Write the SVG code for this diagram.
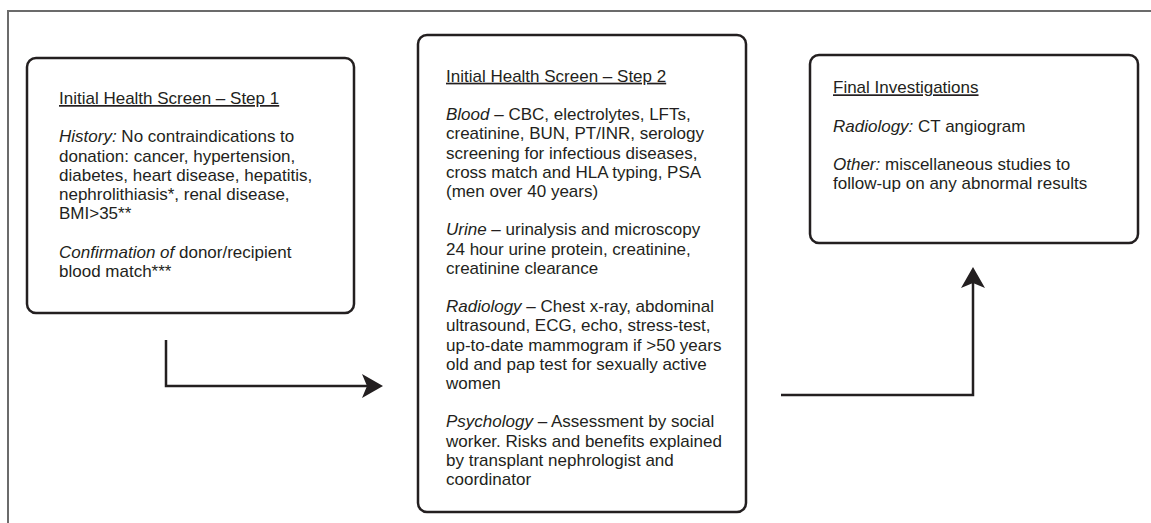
<svg xmlns="http://www.w3.org/2000/svg" width="1151" height="523" viewBox="0 0 1151 523">
<style>
.frame{fill:none;stroke:#6b6b6b;stroke-width:2}
.box{fill:#fff;stroke:#231f20;stroke-width:2.5}
.t{font-family:"Liberation Sans",Arial,sans-serif;font-size:17px;fill:#231f20}
.i{font-style:italic}
.u{text-decoration:underline}
.conn{fill:none;stroke:#231f20;stroke-width:2.5}
</style>
<defs>
<marker id="ah" viewBox="0 0 21 24" refX="5" refY="12" markerWidth="21" markerHeight="24" markerUnits="userSpaceOnUse" orient="auto">
<path d="M0,0 L21,12 L0,24 L5,12 Z" fill="#231f20"/>
</marker>
</defs>
<rect width="1151" height="523" fill="#fff"/>
<path class="frame" d="M1151,11 H8 V523"/>
<g id="step1">
<rect class="box" x="27" y="58" width="327" height="255" rx="9"/>
<text class="t">
<tspan class="u" x="59" y="104">Initial Health Screen – Step 1</tspan>
<tspan x="59" y="142.4"><tspan class="i">History:</tspan> No contraindications to</tspan>
<tspan x="59" y="161.6">donation: cancer, hypertension,</tspan>
<tspan x="59" y="180.8">diabetes, heart disease, hepatitis,</tspan>
<tspan x="59" y="200">nephrolithiasis*, renal disease,</tspan>
<tspan x="59" y="219.2">BMI&gt;35**</tspan>
<tspan x="59" y="257.6"><tspan class="i">Confirmation of</tspan> donor/recipient</tspan>
<tspan x="59" y="276.8">blood match***</tspan>
</text>
</g>
<g id="step2">
<rect class="box" x="418" y="35" width="328" height="477" rx="9"/>
<text class="t">
<tspan class="u" x="446" y="81.7">Initial Health Screen – Step 2</tspan>
<tspan x="446" y="120.1"><tspan class="i">Blood</tspan> – CBC, electrolytes, LFTs,</tspan>
<tspan x="446" y="139.3">creatinine, BUN, PT/INR, serology</tspan>
<tspan x="446" y="158.5">screening for infectious diseases,</tspan>
<tspan x="446" y="177.7">cross match and HLA typing, PSA</tspan>
<tspan x="446" y="196.9">(men over 40 years)</tspan>
<tspan x="446" y="235.3"><tspan class="i">Urine</tspan> – urinalysis and microscopy</tspan>
<tspan x="446" y="254.5">24 hour urine protein, creatinine,</tspan>
<tspan x="446" y="273.7">creatinine clearance</tspan>
<tspan x="446" y="312.1"><tspan class="i">Radiology</tspan> – Chest x-ray, abdominal</tspan>
<tspan x="446" y="331.3">ultrasound, ECG, echo, stress-test,</tspan>
<tspan x="446" y="350.5">up-to-date mammogram if &gt;50 years</tspan>
<tspan x="446" y="369.7">old and pap test for sexually active</tspan>
<tspan x="446" y="388.9">women</tspan>
<tspan x="446" y="427.3"><tspan class="i">Psychology</tspan> – Assessment by social</tspan>
<tspan x="446" y="446.5">worker. Risks and benefits explained</tspan>
<tspan x="446" y="465.7">by transplant nephrologist and</tspan>
<tspan x="446" y="484.9">coordinator</tspan>
</text>
</g>
<g id="final">
<rect class="box" x="810" y="55" width="328" height="188" rx="9"/>
<text class="t">
<tspan class="u" x="833" y="93.3">Final Investigations</tspan>
<tspan x="833" y="131.7"><tspan class="i">Radiology:</tspan> CT angiogram</tspan>
<tspan x="833" y="170.1"><tspan class="i">Other:</tspan> miscellaneous studies to</tspan>
<tspan x="833" y="189.3">follow-up on any abnormal results</tspan>
</text>
</g>
<g id="connectors">
<path class="conn" d="M166,340 V386 H367" marker-end="url(#ah)"/>
<path class="conn" d="M781,395 H973 V283" marker-end="url(#ah)"/>
</g>
</svg>
